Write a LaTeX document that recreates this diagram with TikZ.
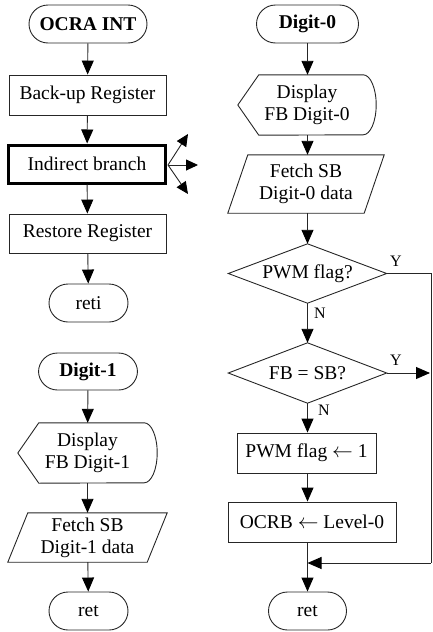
\documentclass[tikz,border=0pt]{standalone}
\usepackage{fontspec}
\setmainfont{Liberation Serif}
\usetikzlibrary{arrows.meta}
\begin{document}
\begin{tikzpicture}[x=1pt,y=-1pt,
  every node/.style={font=\fontsize{19.5}{22}\selectfont, align=center, inner sep=0pt},
  ln/.style={line width=0.9pt, draw=black!85},
  arr/.style={ln, -{Triangle[length=14pt,width=12pt,color=black]}},
  sarr/.style={ln, -{Triangle[length=12pt,width=11pt,color=black]}},
  term/.style={draw=black!85, line width=0.9pt, rounded corners=19pt, minimum height=38pt},
  procbox/.style={draw=black!85, line width=0.9pt, minimum height=40pt},
  lbl/.style={font=\fontsize{16}{18}\selectfont}
]
\useasboundingbox (0,0) rectangle (432,632);
% ---------- left column ----------
\node[term, minimum width=118pt, font=\fontsize{19.5}{22}\selectfont\bfseries] (ocra) at (88,24) {OCRA INT};
\node[procbox, minimum width=157pt] (backup) at (87.5,95) {Back-up Register};
\node[draw=black, line width=3pt, minimum width=157pt, minimum height=38pt] (indirect) at (87,164) {Indirect branch};
\node[procbox, minimum width=157pt, minimum height=39pt] (restore) at (87.5,233.5) {Restore Register};
\node[term, minimum width=79pt] (reti) at (88.5,303) {reti};

\node[term, minimum width=99pt, minimum height=37pt, font=\fontsize{19.5}{22}\selectfont\bfseries] (dig1) at (88,371.5) {Digit-1};
\node[minimum width=139pt, minimum height=60pt] (disp1) at (87.5,453) {Display\\FB Digit-1};
\node[minimum width=159pt, minimum height=49pt] (fetch1) at (87.5,537.5) {Fetch SB\\Digit-1 data};
\node[term, minimum width=79pt] (ret1) at (88.5,611) {ret};

% ---------- right column ----------
\node[term, minimum width=102pt, font=\fontsize{19.5}{22}\selectfont\bfseries] (dig0) at (307.5,24) {Digit-0};
\node[minimum width=138pt, minimum height=60pt] (disp0) at (307,105) {Display\\FB Digit-0};
\node[minimum width=156pt, minimum height=58pt] (fetch0) at (306,184) {Fetch SB\\Digit-0 data};
\node[minimum width=158pt, minimum height=59pt] (pwm) at (307.5,273.5) {PWM flag?};
\node[minimum width=158pt, minimum height=60pt] (fbsb) at (307.5,373) {FB = SB?};
\node[procbox, minimum width=139pt] (set1) at (306.5,453) {PWM flag $\leftarrow$ 1};
\node[procbox, minimum width=168pt] (ocrb) at (312,522) {OCRB $\leftarrow$ Level-0};
\node[term, minimum width=78pt] (ret0) at (307.5,611) {ret};

% ---------- shapes drawn from anchors ----------
\foreach \d in {disp0,disp1}{
  \draw[ln] (\d.west) -- ([xshift=21pt]\d.north west) -- ([xshift=-13pt]\d.north east)
    arc[start angle=90, end angle=-90, x radius=13pt, y radius=30pt]
    -- ([xshift=21pt]\d.south west) -- cycle;
}
\foreach \d in {fetch0,fetch1}{
  \draw[ln] (\d.south west) -- ([xshift=20pt]\d.north west) -- (\d.north east)
    -- ([xshift=-20pt]\d.south east) -- cycle;
}
\foreach \d in {pwm,fbsb}{
  \draw[ln] (\d.west) -- (\d.north) -- (\d.east) -- (\d.south) -- cycle;
}

% ---------- connectors left ----------
\draw[arr] (ocra) -- (backup);
\draw[arr] (backup) -- (indirect);
\draw[arr] (indirect) -- (restore);
\draw[arr] (restore) -- (reti);
\coordinate (bup) at (188,134);
\coordinate (bright) at (198,165);
\coordinate (bdown) at (188,194);
\coordinate (bsrc) at (168,165);
\draw[sarr] (bsrc) -- (bup);
\draw[sarr] (bsrc) -- (bright);
\draw[sarr] (bsrc) -- (bdown);

\draw[arr] (dig1) -- (disp1);
\draw[arr] (disp1) -- (fetch1);
\draw[arr] (fetch1) -- (ret1);

% ---------- connectors right ----------
\draw[arr] (dig0) -- (dig0 |- disp0.north);
\draw[arr] (disp0.south -| dig0) -- (dig0 |- fetch0.north);
\draw[arr] (fetch0.south -| dig0) -- (pwm.north);
\draw[arr] (pwm.south) -- (fbsb.north);
\draw[arr] (fbsb.south) -- (fbsb.south |- set1.north);
\draw[arr] (set1.south -| fbsb) -- (fbsb |- ocrb.north);
\coordinate (rtop) at (431,273.5);
\coordinate (rbot) at (431,563);
\coordinate (join) at (307.5,563);
\coordinate (fbout) at (430,373);
\draw[ln] (pwm.east) -- (rtop) -- (rbot);
\draw[arr] (rbot) -- (join);
\draw[ln] (ocrb.south -| join) -- (join);
\draw[arr] (join) -- (ret0.north);
\draw[arr] (fbsb.east) -- (fbout);

\node[lbl] (y1) at (396,261) {Y};
\node[lbl] (n1) at (320,313) {N};
\node[lbl] (y2) at (396,360) {Y};
\node[lbl] (n2) at (324,410) {N};
\end{tikzpicture}
\end{document}
